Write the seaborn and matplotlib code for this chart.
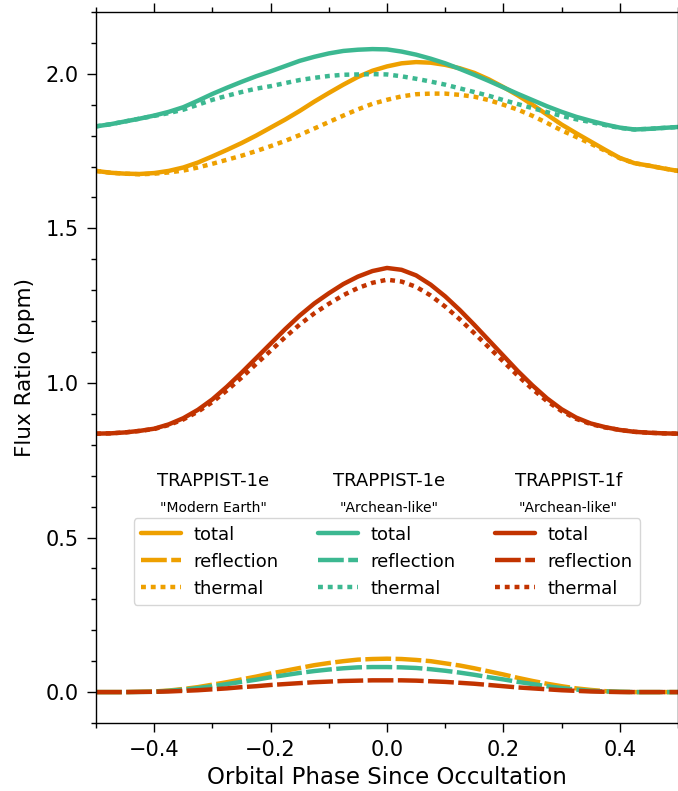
import numpy as np
import pandas as pd
import seaborn as sns
import matplotlib
import matplotlib.pyplot as plt
from matplotlib.lines import Line2D
from matplotlib.ticker import MultipleLocator

matplotlib.use('Agg')

# orbital phase grid
phase = [-0.5, -0.475, -0.45, -0.425, -0.4, -0.375, -0.35, -0.325, -0.3, -0.275,
         -0.25, -0.225, -0.2, -0.175, -0.15, -0.125, -0.1, -0.075, -0.05, -0.025,
         0.0, 0.025, 0.05, 0.075, 0.1, 0.125, 0.15, 0.175, 0.2, 0.225,
         0.25, 0.275, 0.3, 0.325, 0.35, 0.375, 0.4, 0.425, 0.45, 0.475, 0.5]

# TRAPPIST-1e "Modern Earth"
e_modern_total = [1.686, 1.680, 1.677, 1.676, 1.679, 1.686, 1.697, 1.713, 1.733, 1.754,
                  1.776, 1.800, 1.826, 1.852, 1.880, 1.910, 1.938, 1.965, 1.990, 2.010,
                  2.024, 2.034, 2.038, 2.036, 2.029, 2.018, 2.003, 1.982, 1.957, 1.930,
                  1.900, 1.868, 1.836, 1.808, 1.781, 1.754, 1.728, 1.711, 1.703, 1.694, 1.686]
e_modern_refl = [0.0, 0.0, 0.0, 0.001, 0.002, 0.005, 0.010, 0.016, 0.024, 0.032,
                 0.041, 0.050, 0.060, 0.069, 0.078, 0.087, 0.094, 0.100, 0.105, 0.107,
                 0.108, 0.107, 0.104, 0.100, 0.093, 0.086, 0.077, 0.067, 0.057, 0.046,
                 0.036, 0.027, 0.019, 0.012, 0.007, 0.003, 0.001, 0.0, 0.0, 0.0, 0.0]
e_modern_therm = [1.686, 1.680, 1.677, 1.675, 1.677, 1.681, 1.687, 1.697, 1.709, 1.722,
                  1.735, 1.750, 1.766, 1.783, 1.802, 1.823, 1.844, 1.865, 1.885, 1.903,
                  1.916, 1.927, 1.934, 1.936, 1.936, 1.932, 1.926, 1.915, 1.900, 1.884,
                  1.864, 1.841, 1.817, 1.796, 1.774, 1.751, 1.727, 1.711, 1.703, 1.694, 1.686]

# TRAPPIST-1e "Archean-like"
e_arch_total = [1.830, 1.837, 1.846, 1.855, 1.865, 1.877, 1.892, 1.913, 1.935, 1.955,
                1.974, 1.992, 2.008, 2.025, 2.042, 2.055, 2.066, 2.074, 2.078, 2.080,
                2.079, 2.072, 2.062, 2.049, 2.034, 2.016, 1.997, 1.977, 1.956, 1.935,
                1.915, 1.895, 1.877, 1.861, 1.848, 1.836, 1.826, 1.820, 1.822, 1.825, 1.828]
e_arch_refl = [0.0, 0.0, 0.0, 0.0005, 0.001, 0.004, 0.008, 0.013, 0.019, 0.026,
               0.033, 0.040, 0.048, 0.055, 0.062, 0.068, 0.073, 0.077, 0.080, 0.081,
               0.081, 0.080, 0.078, 0.074, 0.069, 0.063, 0.056, 0.048, 0.041, 0.033,
               0.026, 0.019, 0.013, 0.008, 0.004, 0.002, 0.001, 0.0, 0.0, 0.0, 0.0]
e_arch_therm = [1.830, 1.837, 1.846, 1.855, 1.864, 1.873, 1.884, 1.900, 1.916, 1.929,
                1.941, 1.952, 1.960, 1.970, 1.980, 1.987, 1.993, 1.997, 1.998, 1.999,
                1.998, 1.992, 1.984, 1.975, 1.965, 1.953, 1.941, 1.929, 1.915, 1.902,
                1.889, 1.876, 1.864, 1.853, 1.844, 1.834, 1.825, 1.820, 1.822, 1.825, 1.828]

# TRAPPIST-1f "Archean-like"
f_arch_total = [0.836, 0.837, 0.840, 0.845, 0.852, 0.866, 0.886, 0.913, 0.947, 0.988,
                1.033, 1.080, 1.127, 1.174, 1.218, 1.257, 1.290, 1.320, 1.344, 1.362,
                1.372, 1.366, 1.348, 1.318, 1.280, 1.236, 1.188, 1.138, 1.088, 1.038,
                0.992, 0.950, 0.915, 0.888, 0.869, 0.857, 0.848, 0.842, 0.839, 0.837, 0.836]
f_arch_refl = [0.0, 0.0, 0.0, 0.0005, 0.001, 0.002, 0.004, 0.006, 0.009, 0.012,
               0.016, 0.019, 0.023, 0.026, 0.029, 0.032, 0.034, 0.036, 0.037, 0.038,
               0.038, 0.038, 0.037, 0.035, 0.033, 0.030, 0.027, 0.023, 0.019, 0.015,
               0.012, 0.009, 0.006, 0.004, 0.002, 0.001, 0.0, 0.0, 0.0, 0.0, 0.0]
f_arch_therm = [0.836, 0.837, 0.840, 0.845, 0.851, 0.864, 0.882, 0.907, 0.938, 0.976,
                1.017, 1.061, 1.104, 1.148, 1.189, 1.225, 1.256, 1.284, 1.307, 1.324,
                1.334, 1.328, 1.311, 1.283, 1.247, 1.206, 1.161, 1.115, 1.069, 1.023,
                0.980, 0.941, 0.909, 0.884, 0.867, 0.856, 0.848, 0.842, 0.839, 0.837, 0.836]

planets = ['e_modern', 'e_arch', 'f_arch']
planet_names = ['TRAPPIST-1e', 'TRAPPIST-1e', 'TRAPPIST-1f']
planet_sub = ['"Modern Earth"', '"Archean-like"', '"Archean-like"']
components = ['total', 'reflection', 'thermal']
colors = {'e_modern': '#EEA000', 'e_arch': '#3CB891', 'f_arch': '#C23300'}
dash_map = {'total': '', 'reflection': (5.8, 1.0), 'thermal': (1.1, 1.1)}
ls_map = {'total': '-', 'reflection': (0, (5.8, 1.0)), 'thermal': (0, (1.1, 1.1))}

series = {
    ('e_modern', 'total'): e_modern_total,
    ('e_modern', 'reflection'): e_modern_refl,
    ('e_modern', 'thermal'): e_modern_therm,
    ('e_arch', 'total'): e_arch_total,
    ('e_arch', 'reflection'): e_arch_refl,
    ('e_arch', 'thermal'): e_arch_therm,
    ('f_arch', 'total'): f_arch_total,
    ('f_arch', 'reflection'): f_arch_refl,
    ('f_arch', 'thermal'): f_arch_therm,
}

frames = []
for (p, c), vals in series.items():
    frames.append(pd.DataFrame({'phase': phase, 'flux': vals, 'planet': p, 'component': c}))
df = pd.concat(frames, ignore_index=True)

sns.set_style('ticks')
plt.rcParams['font.family'] = ['DejaVu Sans']
plt.rcParams['text.color'] = 'black'
plt.rcParams['axes.labelcolor'] = 'black'
plt.rcParams['xtick.color'] = 'black'
plt.rcParams['ytick.color'] = 'black'

fig = plt.figure(figsize=(6.78, 7.91), dpi=100)
ax = fig.add_axes([96 / 678, 1 - 723 / 791, 582 / 678, 711 / 791])

lw = 3.2
sns.lineplot(data=df, x='phase', y='flux', hue='planet', style='component',
             hue_order=planets, style_order=components, palette=colors,
             dashes=dash_map, linewidth=lw, estimator=None, sort=False,
             legend=False, ax=ax)

ax.set_xlim(-0.5, 0.5)
ax.set_ylim(-0.1, 2.2)
ax.xaxis.set_major_locator(MultipleLocator(0.2))
ax.xaxis.set_minor_locator(MultipleLocator(0.1))
ax.yaxis.set_major_locator(MultipleLocator(0.5))
ax.yaxis.set_minor_locator(MultipleLocator(0.1))
ax.tick_params(which='both', direction='out', top=True, right=True,
               labelsize=15, colors='black', width=1)
ax.tick_params(which='major', length=6.3, pad=6)
ax.tick_params(which='minor', length=3.3)
for s in ax.spines.values():
    s.set_color('black')
    s.set_linewidth(1)

ax.set_xlabel('Orbital Phase Since Occultation', fontsize=16.5, labelpad=4)
ax.set_ylabel('Flux Ratio (ppm)', fontsize=15.5, labelpad=8)

handles, labels = [], []
for p in planets:
    for c in components:
        handles.append(Line2D([], [], color=colors[p], lw=lw, linestyle=ls_map[c]))
        labels.append(c)
ax.legend(handles, labels, ncol=3, loc='lower center', bbox_to_anchor=(0.5, 0.166),
          borderaxespad=0, fontsize=13, handlelength=2.2, columnspacing=2.2,
          handletextpad=0.7, frameon=True, edgecolor='0.8')

title_x = [0.201, 0.504, 0.812]
for tx, name, sub in zip(title_x, planet_names, planet_sub):
    ax.text(tx, 0.340, name, transform=ax.transAxes, ha='center', va='center', fontsize=13)
    ax.text(tx, 0.303, sub, transform=ax.transAxes, ha='center', va='center', fontsize=10)

fig.savefig('out.png', dpi=100)
